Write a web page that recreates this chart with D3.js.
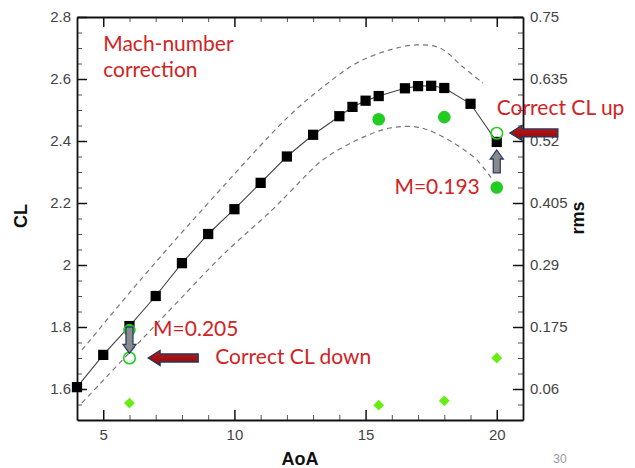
<!DOCTYPE html>
<html><head><meta charset="utf-8">
<script src="https://cdn.jsdelivr.net/npm/d3@7"></script>
<style>body{margin:0;background:#fff}svg{display:block}</style>
</head><body>
<svg id="c" width="635" height="468"></svg>
<script>
// ---- data ----
const clAoA = [4,5,6,7,8,9,10,11,12,13,14,14.5,15,15.5,16.5,17,17.5,18,19,20];
const clVal = [1.606,1.71,1.803,1.90,2.006,2.10,2.18,2.265,2.35,2.42,2.48,2.51,2.53,2.545,2.57,2.577,2.578,2.571,2.52,2.397];
const upperAoA = [4.19,6.48,8.76,12.04,13.37,14.67,15.93,16.96,17.83,18.71,19.47];
const upperVal = [1.726,1.958,2.177,2.477,2.574,2.652,2.694,2.71,2.70,2.639,2.587];
const lowerAoA = [4.19,7.73,9.64,11.43,12.19,13.37,14.67,15.93,16.96,17.57,18.48,19.24,19.85];
const lowerVal = [1.555,1.872,2.039,2.177,2.242,2.339,2.403,2.442,2.445,2.429,2.387,2.339,2.274];
const measAoA = [6,15.5,18,20];
const measCL = [1.79,2.47,2.477,2.25];
const corrAoA = [6,20];
const corrCL = [1.70,2.425];
const rmsAoA = [6,15.5,18,20];
const rmsVal = [0.034,0.030,0.038,0.1175];
const xTicks = [5,10,15,20];
const xMinor = [6,7,8,9,11,12,13,14,16,17,18,19];
const yTicks = [1.6,1.8,2.0,2.2,2.4,2.6,2.8];
const yTickLabels = ["1.6","1.8","2","2.2","2.4","2.6","2.8"];
const rTicks = [0.06,0.175,0.29,0.405,0.52,0.635,0.75];
const rTickLabels = ["0.06","0.175","0.29","0.405","0.52","0.635","0.75"];
// annotation arrows: [tipAoA, tipCL, tailAoA, tailCL]
const redArrows = [[6.71,1.70,8.62,1.70],[20.5,2.426,22.33,2.426]];
const greyArrows = [[6,1.715,6,1.80],[20,2.371,20,2.297]];
const labels = [
  {t:"Mach-number", a:5.0, c:2.69},
  {t:"correction", a:5.0, c:2.606},
  {t:"Correct CL up", a:20.0, c:2.483},
  {t:"M=0.193", a:16.1, c:2.229},
  {t:"M=0.205", a:6.9, c:1.771},
  {t:"Correct CL down", a:9.27, c:1.681}
];

// ---- scales ----
const W = 635, H = 468;
const m = {l:77, t:17, r:112, b:48};
const x = d3.scaleLinear([4,21],[m.l, W-m.r]);
const y = d3.scaleLinear([1.5,2.8],[H-m.b, m.t]);
const rmsFromCL = c => 0.75 - (2.8 - c)*0.575;
const yR = d3.scaleLinear([rmsFromCL(1.5),0.75],[H-m.b, m.t]);
const yMinor = d3.range(1.55,2.8,0.05).filter(v => Math.abs((v*10)%2) > 0.05 && Math.abs((v*10)%2 - 2) > 0.05);

const svg = d3.select("#c");
const tickFont = "'Liberation Sans', Arial, sans-serif";

function styleAxis(g){
  g.selectAll("path.domain").attr("stroke","#111").attr("stroke-width",1.8);
  g.selectAll(".tick line").attr("stroke","#111").attr("stroke-width",1.5);
  g.selectAll(".tick text").attr("fill","#444").style("font-family",tickFont).style("font-size","15px");
}

// minor ticks
svg.append("g").attr("transform",`translate(0,${H-m.b})`)
  .call(d3.axisBottom(x).tickValues(xMinor).tickSize(-5).tickSizeOuter(0).tickFormat(""))
  .call(g=>{g.select(".domain").remove(); g.selectAll("line").attr("stroke","#555");});
svg.append("g").attr("transform",`translate(0,${m.t})`)
  .call(d3.axisTop(x).tickValues(xMinor).tickSize(-5).tickSizeOuter(0).tickFormat(""))
  .call(g=>{g.select(".domain").remove(); g.selectAll("line").attr("stroke","#555");});
svg.append("g").attr("transform",`translate(${m.l},0)`)
  .call(d3.axisLeft(y).tickValues(yMinor).tickSize(-5).tickSizeOuter(0).tickFormat(""))
  .call(g=>{g.select(".domain").remove(); g.selectAll("line").attr("stroke","#555");});
svg.append("g").attr("transform",`translate(${W-m.r},0)`)
  .call(d3.axisRight(y).tickValues(yMinor).tickSize(-5).tickSizeOuter(0).tickFormat(""))
  .call(g=>{g.select(".domain").remove(); g.selectAll("line").attr("stroke","#555");});

// major axes
svg.append("g").attr("transform",`translate(0,${H-m.b})`)
  .call(d3.axisBottom(x).tickValues(xTicks).tickSize(-10).tickSizeOuter(0).tickPadding(9).tickFormat(d3.format("d")))
  .call(styleAxis);
svg.append("g").attr("transform",`translate(0,${m.t})`)
  .call(d3.axisTop(x).tickValues(xTicks).tickSize(-10).tickSizeOuter(0).tickFormat(""))
  .call(styleAxis);
svg.append("g").attr("transform",`translate(${m.l},0)`)
  .call(d3.axisLeft(y).tickValues(yTicks).tickSize(-10).tickSizeOuter(0).tickPadding(6).tickFormat((d,i)=>yTickLabels[i]))
  .call(styleAxis);
svg.append("g").attr("transform",`translate(${W-m.r},0)`)
  .call(d3.axisRight(yR).tickValues(rTicks).tickSize(-10).tickSizeOuter(0).tickPadding(7).tickFormat((d,i)=>rTickLabels[i]))
  .call(styleAxis);

// dashed envelopes
const curve = d3.line().x(d=>x(d[0])).y(d=>y(d[1])).curve(d3.curveCatmullRom);
[[upperAoA,upperVal],[lowerAoA,lowerVal]].forEach(([a,v])=>{
  svg.append("path").datum(a.map((d,i)=>[d,v[i]])).attr("d",curve)
    .attr("fill","none").attr("stroke","#777").attr("stroke-width",1.2).attr("stroke-dasharray","5,4");
});

// main CL line + squares
const clData = clAoA.map((d,i)=>[d,clVal[i]]);
svg.append("path").datum(clData).attr("d",d3.line().x(d=>x(d[0])).y(d=>y(d[1])))
  .attr("fill","none").attr("stroke","#444").attr("stroke-width",1.1);
svg.append("g").selectAll("path").data(clData).join("path")
  .attr("transform",d=>`translate(${x(d[0])},${y(d[1])})`)
  .attr("d",d3.symbol(d3.symbolSquare,105)).attr("fill","#000");

// measured (green filled circles)
svg.append("g").selectAll("circle").data(measAoA.map((d,i)=>[d,measCL[i]])).join("circle")
  .attr("cx",d=>x(d[0])).attr("cy",d=>y(d[1])).attr("r",6.3).attr("fill","#22cc22");
// corrected (open circles)
svg.append("g").selectAll("circle").data(corrAoA.map((d,i)=>[d,corrCL[i]])).join("circle")
  .attr("cx",d=>x(d[0])).attr("cy",d=>y(d[1])).attr("r",5.8).attr("fill","none")
  .attr("stroke","#22cc22").attr("stroke-width",1.6);
// rms diamonds
svg.append("g").selectAll("path").data(rmsAoA.map((d,i)=>[d,rmsVal[i]])).join("path")
  .attr("transform",d=>`translate(${x(d[0])},${yR(d[1])}) rotate(45)`)
  .attr("d",d3.symbol(d3.symbolSquare,58)).attr("fill","#66ee11");

// block arrows
function arrowPath(x0,y0,x1,y1,body,head,headLen){
  // tip (x0,y0), tail (x1,y1)
  const dx=x1-x0, dy=y1-y0, L=Math.hypot(dx,dy), ux=dx/L, uy=dy/L, px=-uy, py=ux;
  const pts=[[0,0],[headLen,head/2],[headLen,body/2],[L,body/2],[L,-body/2],[headLen,-body/2],[headLen,-head/2]];
  return "M"+pts.map(([a,b])=>[x0+ux*a+px*b, y0+uy*a+py*b].join(",")).join("L")+"Z";
}
const defs = svg.append("defs");
const grad = defs.append("linearGradient").attr("id","rg").attr("x1",0).attr("y1",0).attr("x2",0).attr("y2",1);
grad.append("stop").attr("offset","0%").attr("stop-color","#c01818");
grad.append("stop").attr("offset","100%").attr("stop-color","#8a0c0c");
svg.append("g").selectAll("path").data(redArrows).join("path")
  .attr("d",d=>arrowPath(x(d[0]),y(d[1]),x(d[2]),y(d[3]),8,15,12))
  .attr("fill","url(#rg)").attr("stroke","#1f3864").attr("stroke-width",1.3);
svg.append("g").selectAll("path").data(greyArrows).join("path")
  .attr("d",d=>arrowPath(x(d[0]),y(d[1]),x(d[2]),y(d[3]),7,13,9))
  .attr("fill","#8a8a8a").attr("stroke","#2a3f6b").attr("stroke-width",1.3);

// red annotation text
svg.append("g").selectAll("text").data(labels).join("text")
  .attr("x",d=>x(d.a)).attr("y",d=>y(d.c)).text(d=>d.t)
  .attr("fill","#d02424").style("font-family","Lato, 'Open Sans', sans-serif").style("font-size","21px");

// axis titles
const tf = "'Liberation Sans', Arial, sans-serif";
svg.append("text").attr("x",(x(4)+x(21))/2).attr("y",465).attr("text-anchor","middle")
  .style("font-family",tf).style("font-weight","bold").style("font-size","18px").attr("fill","#111").text("AoA");
svg.append("text").attr("transform","translate(27,216) rotate(-90)").attr("text-anchor","middle")
  .style("font-family",tf).style("font-weight","bold").style("font-size","18px").attr("fill","#111").text("CL");
svg.append("text").attr("transform","translate(584,218) rotate(-90)").attr("text-anchor","middle")
  .style("font-family",tf).style("font-weight","bold").style("font-size","18px").attr("fill","#111").text("rms");
svg.append("text").attr("x",560).attr("y",463).attr("text-anchor","middle")
  .style("font-family",tf).style("font-size","12px").attr("fill","#999").text("30");
</script>
</body></html>
